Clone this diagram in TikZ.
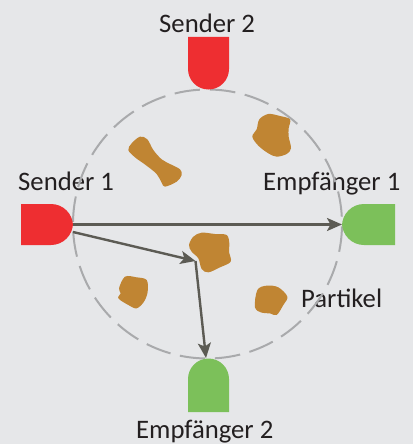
\documentclass[tikz,border=0pt]{standalone}
\usepackage{fontspec}
\setmainfont{Carlito}
\usetikzlibrary{arrows.meta}
\definecolor{bgc}{HTML}{E6E7E9}
\definecolor{redc}{HTML}{EE2E31}
\definecolor{greenc}{HTML}{7CC05A}
\definecolor{brownc}{HTML}{C08533}
\definecolor{ringc}{HTML}{A9AAAC}
\definecolor{arrowc}{HTML}{5C5B54}
\definecolor{textc}{HTML}{231F20}
\tikzset{
  lbl/.style={anchor=base west,inner sep=0pt,text=textc,font=\fontsize{26.7}{27}\selectfont},
  ring/.style={draw=ringc,line width=2pt,dash pattern=on 25.5pt off 9.7pt,dash phase=32.7pt},
  sendbox/.style={fill=redc,draw=none},
  recvbox/.style={fill=greenc,draw=none},
  grain/.style={fill=brownc,draw=none},
  ray/.style={draw=arrowc,line width=2.4pt,-{Stealth[length=15pt,width=13pt,inset=3.5pt]}},
}
\begin{document}
\begin{tikzpicture}[x=1pt,y=-1pt]
\useasboundingbox[fill=bgc] (0,0) rectangle (413,444);
% labels
\node[lbl] (ls2) at (159,32.7) {Sender 2};
\node[lbl] (ls1) at (18,190) {Sender 1};
\node[lbl] (le1) at (263,190) {Empfänger 1};
\node[lbl] (le2) at (136,438.5) {Empfänger 2};
\node[lbl] (lp) at (301,307.7) {Partikel};
% ring
\coordinate (ringtop) at (207.5,89.5);
\draw[ring] (ringtop) arc[start angle=90,delta angle=-360,radius=134.5pt];
% senders and receivers
\path[sendbox] (21,204) -- (51,204) arc[start angle=90,end angle=0,radius=22pt] -- (73,223) arc[start angle=0,end angle=-90,radius=22pt] -- (21,245) -- cycle;
\path[sendbox] (188,37) -- (229,37) -- (229,69) arc[start angle=0,delta angle=-180,radius=20.5pt] -- cycle;
\path[recvbox] (395,204) -- (364,204) arc[start angle=90,end angle=180,radius=22pt] -- (342,223) arc[start angle=180,end angle=270,radius=22pt] -- (395,245) -- cycle;
\path[recvbox] (188,412) -- (229,412) -- (229,379) arc[start angle=0,delta angle=180,radius=20.5pt] -- cycle;
% particles
\begin{scope}[scale=0.33333]
\path[grain] plot[smooth cycle,tension=.55] coordinates {(385,450)(395,430)(420,410)(442,418)(460,450)(485,478)(512,493)(540,508)(545,525)(530,545)(495,560)(485,548)(470,522)(437,495)(405,472)};
\path[grain,shift={(600,0)}] plot[smooth cycle,tension=.55] coordinates {(157,410)(170,388)(178,358)(205,342)(240,348)(270,358)(266,385)(266,410)(273,445)(260,462)(230,470)(205,460)(175,437)};
\end{scope}
\begin{scope}[shift={(180,220)},scale=0.33333]
\path[grain] plot[smooth cycle,tension=.55] coordinates {(27,75)(40,50)(65,38)(105,42)(140,45)(148,70)(147,95)(152,125)(120,142)(85,157)(65,147)(55,115)(35,95)};
\path[grain] plot[smooth cycle,tension=.55] coordinates {(232,210)(260,197)(295,202)(322,230)(310,255)(290,285)(270,280)(245,278)(225,262)};
\end{scope}
\begin{scope}[shift={(0,220)},scale=0.33333]
\path[grain] plot[smooth cycle,tension=.55] coordinates {(357,205)(375,170)(410,172)(440,180)(443,215)(432,245)(410,265)(385,255)(355,235)(362,220)};
\end{scope}
% connectors
\coordinate (s1a) at (73,224.5);
\coordinate (e1a) at (342,224.5);
\coordinate (s1b) at (73,232);
\coordinate (hit) at (195.5,261);
\coordinate (e2a) at (206,358);
\draw[ray] (s1a) -- (e1a);
\draw[ray] (s1b) -- (hit);
\draw[ray] (hit) -- (e2a);
\end{tikzpicture}
\end{document}
